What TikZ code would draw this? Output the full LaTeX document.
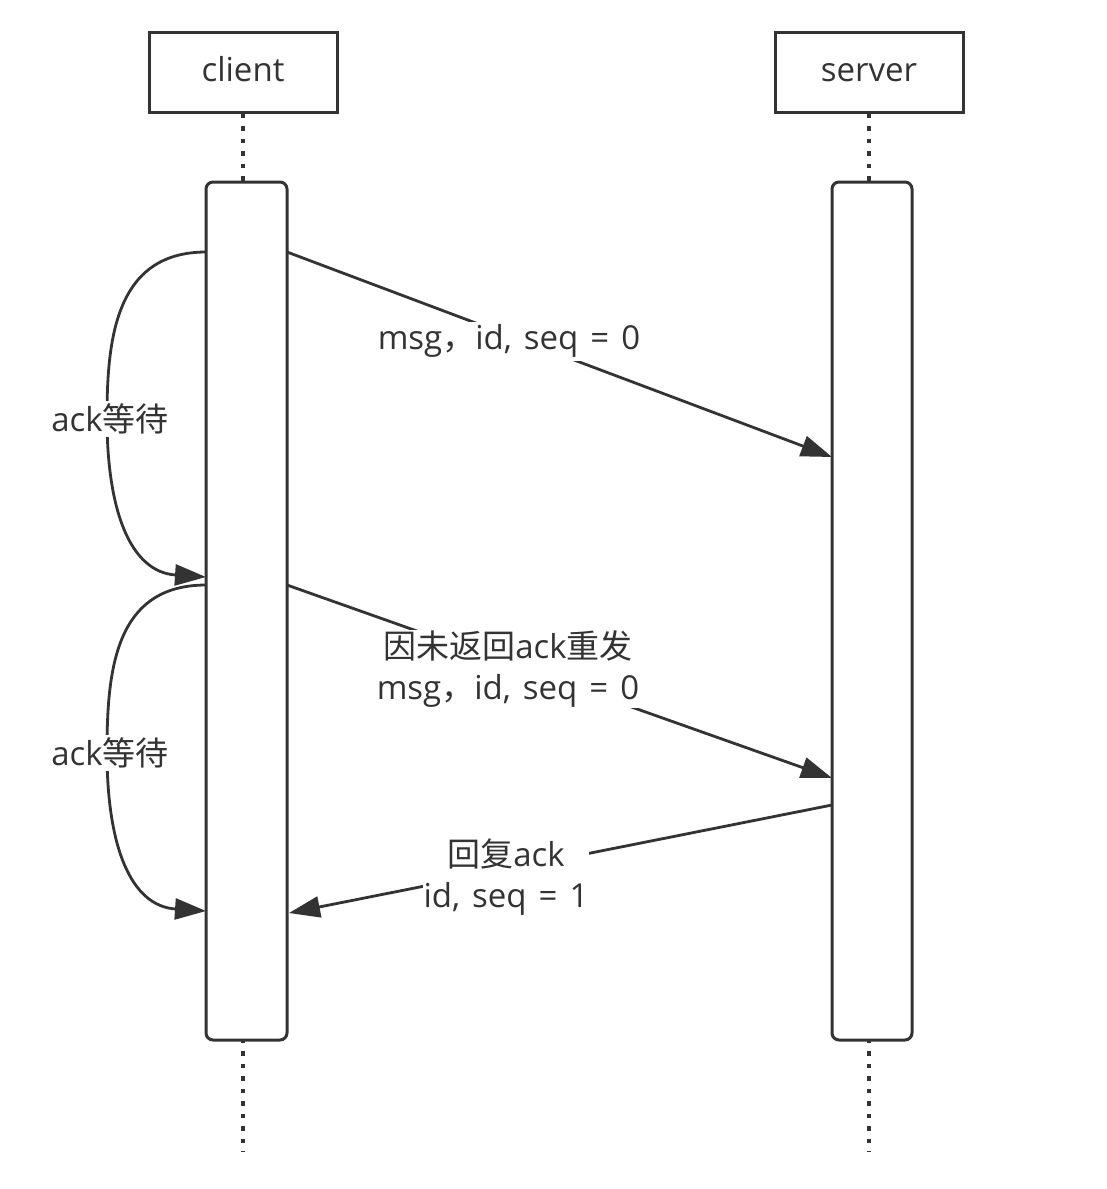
\documentclass[tikz,border=0pt]{standalone}
\usepackage{fontspec}
\setmainfont{Open Sans}[WordSpace=1.4]
\newfontfamily\cjk{Noto Sans CJK SC}
\usetikzlibrary{arrows.meta}
\definecolor{ink}{HTML}{333333}
\begin{document}
\begin{tikzpicture}[x=1pt,y=-1pt,
  every node/.style={font=\fontsize{33}{41}\selectfont, text=ink},
  headbox/.style={draw=ink, line width=3pt, minimum width=188pt, minimum height=80pt, inner sep=0pt, fill=white, text height=24pt, text depth=6pt},
  actbar/.style={draw=ink, line width=3pt, rounded corners=7pt, fill=white},
  lifeline/.style={draw=ink, line width=4.5pt, dash pattern=on 4.5pt off 8pt},
  msgline/.style={draw=ink, line width=2.8pt, -{Triangle[length=31pt,width=21pt]}},
  lbl/.style={fill=white, inner sep=3pt, align=center}
]
\useasboundingbox (0,0) rectangle (1107,1189);
% head boxes
\node[headbox] (client) at (243,72) {client};
\node[headbox] (server) at (869,72) {server};
% lifelines
\coordinate (cbot) at (243,1152);
\coordinate (sbot) at (869,1152);
\draw[lifeline] (client.south) -- (cbot);
\draw[lifeline] (server.south) -- (sbot);
% activation bars
\draw[actbar] (206,182) rectangle (287,1040);
\draw[actbar] (832,182) rectangle (912,1040);
% anchor coordinates
\coordinate (c1) at (287,252);
\coordinate (s1) at (832,457);
\coordinate (c2) at (287,585);
\coordinate (s2) at (832,778);
\coordinate (s3) at (832,805);
\coordinate (c3) at (289,913);
\coordinate (l1) at (206,252);
\coordinate (l2) at (206,577);
\coordinate (l3) at (206,585);
\coordinate (l4) at (206,911);
% messages
\draw[msgline] (c1) -- (s1);
\node[lbl] (m1) at (509,341) {msg{\cjk ，}id, seq = 0};
\draw[msgline] (c2) -- (s2);
\node[lbl, inner sep=1pt] (m2) at (508,669) {{\cjk 因未返回}ack{\cjk 重发}\\msg{\cjk ，}id, seq = 0};
\draw[msgline] (s3) -- (c3);
\node[lbl, inner sep=1pt] (m3) at (506,877) {{\cjk 回复}ack\\id, seq = 1};
% waiting loops
\draw[msgline] (l1) .. controls (115,252) and (107,340) .. (107,418)
   .. controls (107,510) and (130,572) .. (l2);
\node[lbl] (w1) at (110,419) {ack{\cjk 等待}};
\draw[msgline] (l3) .. controls (115,585) and (107,670) .. (107,752)
   .. controls (107,845) and (130,906) .. (l4);
\node[lbl] (w2) at (110,753) {ack{\cjk 等待}};
\end{tikzpicture}
\end{document}
